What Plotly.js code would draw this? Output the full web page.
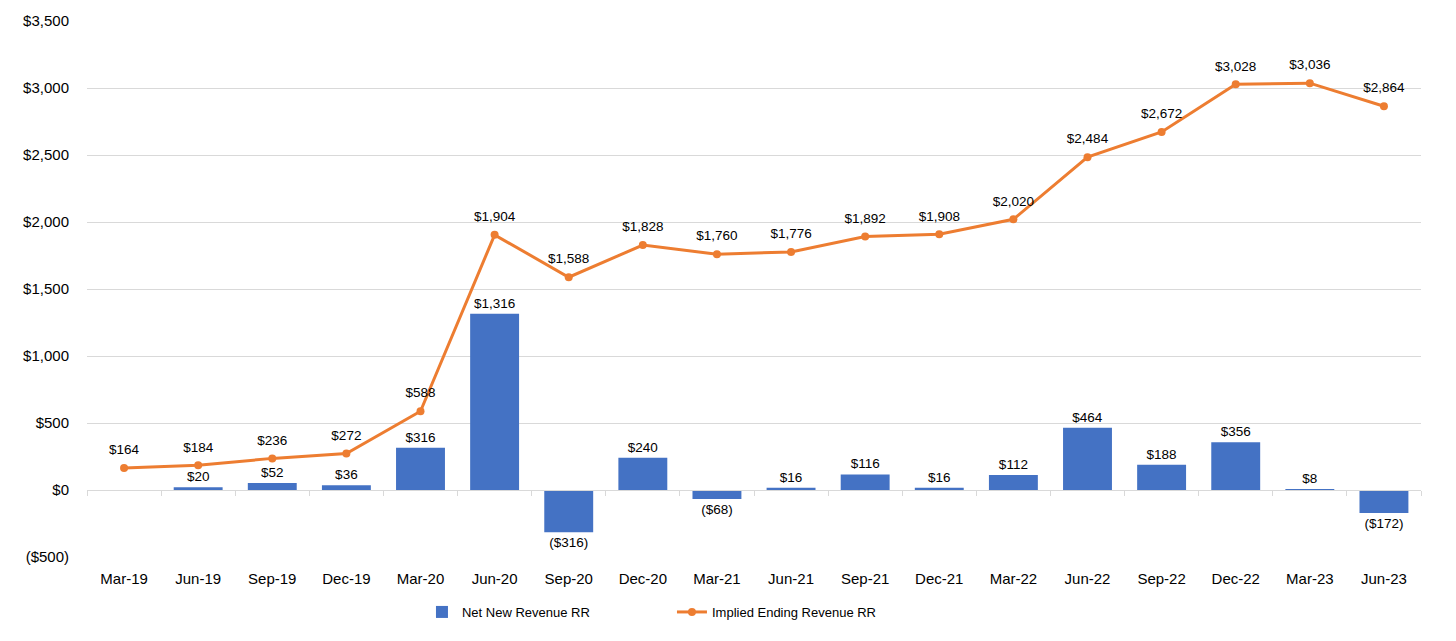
<!DOCTYPE html>
<html>
<head>
<meta charset="utf-8">
<script src="https://cdn.plot.ly/plotly-3.0.1.min.js"></script>
<style>
  html, body { margin: 0; padding: 0; background: #ffffff; }
  #chart { width: 1456px; height: 641px; }
</style>
</head>
<body>
<div id="chart"></div>
<script>
const categories = ["Mar-19","Jun-19","Sep-19","Dec-19","Mar-20","Jun-20","Sep-20","Dec-20","Mar-21","Jun-21","Sep-21","Dec-21","Mar-22","Jun-22","Sep-22","Dec-22","Mar-23","Jun-23"];
const netNewRevenueRR = [null, 20, 52, 36, 316, 1316, -316, 240, -68, 16, 116, 16, 112, 464, 188, 356, 8, -172];
const impliedEndingRevenueRR = [164, 184, 236, 272, 588, 1904, 1588, 1828, 1760, 1776, 1892, 1908, 2020, 2484, 2672, 3028, 3036, 2864];
const yTickValues = [-500, 0, 500, 1000, 1500, 2000, 2500, 3000, 3500];

function fmtMoney(v) {
  if (v === null || v === undefined) return "";
  const s = "$" + Math.abs(v).toLocaleString("en-US");
  return v < 0 ? "(" + s + ")" : s;
}
const yTickText = yTickValues.map(fmtMoney);

const FONT = '"Liberation Sans", Arial, Helvetica, sans-serif';
const BLUE = "#4472C4";
const ORANGE = "#ED7D31";
const GRID = "#d9d9d9";

const traces = [
  {
    type: "bar",
    name: "Net New Revenue RR",
    x: categories,
    y: netNewRevenueRR,
    marker: { color: BLUE },
    text: netNewRevenueRR.map(fmtMoney),
    textposition: "outside",
    textfont: { family: FONT, size: 13.5, color: "#000000" },
    cliponaxis: false,
    hoverinfo: "x+y"
  },
  {
    type: "scatter",
    mode: "lines+markers",
    name: "Implied Ending Revenue RR",
    x: categories,
    y: impliedEndingRevenueRR,
    line: { color: ORANGE, width: 3 },
    marker: { color: ORANGE, size: 8 },
    cliponaxis: false
  },
  {
    type: "scatter",
    mode: "markers+text",
    x: categories,
    y: impliedEndingRevenueRR,
    marker: { color: "rgba(0,0,0,0)", size: 15 },
    text: impliedEndingRevenueRR.map(fmtMoney),
    textposition: "top center",
    textfont: { family: FONT, size: 13.5, color: "#000000" },
    showlegend: false,
    hoverinfo: "skip",
    cliponaxis: false
  },
  {
    type: "scatter",
    mode: "markers",
    x: categories,
    y: categories.map(() => null),
    xaxis: "x2",
    showlegend: false,
    hoverinfo: "skip"
  }
];

const layout = {
  width: 1456,
  height: 641,
  margin: { l: 87, r: 35, t: 21, b: 84 },
  paper_bgcolor: "#ffffff",
  plot_bgcolor: "#ffffff",
  font: { family: FONT, size: 15, color: "#000000" },
  bargap: 0.34,
  showlegend: true,
  legend: {
    orientation: "h",
    x: 0.2511,
    xanchor: "left",
    y: -0.1026,
    yanchor: "middle",
    entrywidth: 205,
    entrywidthmode: "pixels",
    font: { family: FONT, size: 13, color: "#000000" },
    bgcolor: "rgba(0,0,0,0)"
  },
  xaxis: {
    type: "category",
    categoryorder: "array",
    categoryarray: categories,
    range: [-0.5, categories.length - 0.5],
    showgrid: false,
    zeroline: false,
    showline: false,
    ticks: "outside",
    ticklen: 8,
    tickcolor: "rgba(0,0,0,0)",
    tickfont: { family: FONT, size: 15, color: "#000000" },
    fixedrange: true
  },
  xaxis2: {
    type: "category",
    categoryorder: "array",
    categoryarray: categories,
    range: [-0.5, categories.length - 0.5],
    overlaying: "x",
    anchor: "free",
    position: 0.125,
    side: "bottom",
    showgrid: false,
    zeroline: false,
    showline: true,
    linecolor: GRID,
    linewidth: 1,
    ticks: "outside",
    tickson: "boundaries",
    ticklen: 5,
    tickcolor: GRID,
    showticklabels: false,
    fixedrange: true
  },
  yaxis: {
    range: [-500, 3500],
    tickmode: "array",
    tickvals: yTickValues,
    ticktext: yTickText,
    showgrid: true,
    gridcolor: GRID,
    gridwidth: 1,
    zeroline: true,
    zerolinecolor: GRID,
    zerolinewidth: 1,
    showline: false,
    ticks: "outside",
    ticklen: 14,
    tickcolor: "rgba(0,0,0,0)",
    tickfont: { family: FONT, size: 15, color: "#000000" },
    fixedrange: true
  }
};

Plotly.newPlot("chart", traces, layout, { displayModeBar: false, staticPlot: true });
</script>
</body>
</html>
